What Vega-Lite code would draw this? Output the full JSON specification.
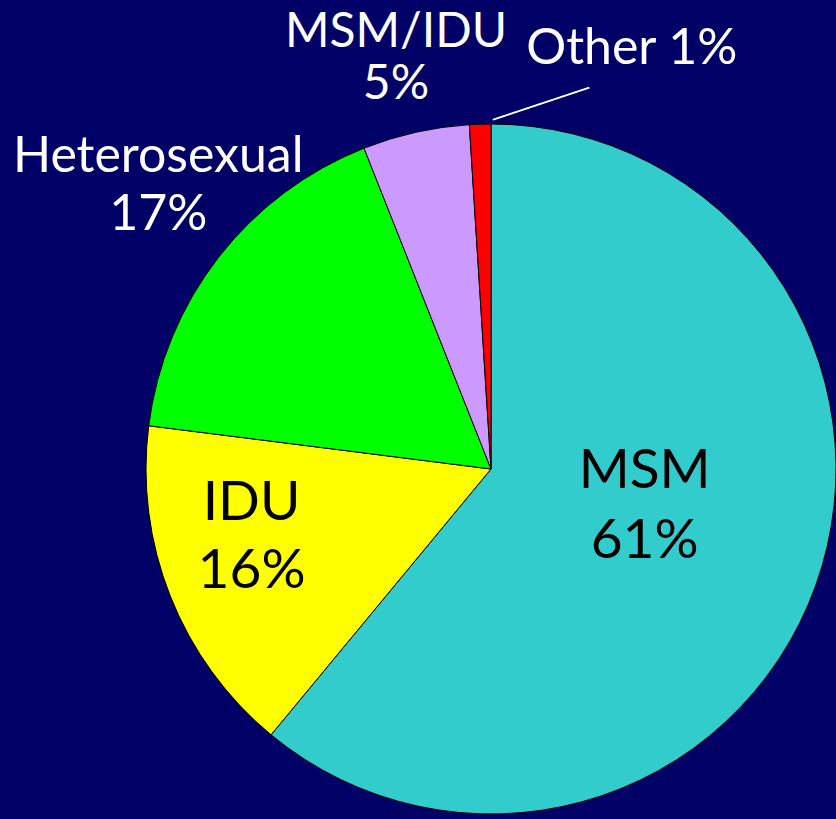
{
  "$schema": "https://vega.github.io/schema/vega-lite/v6.json",
  "autosize": "none",
  "width": 690,
  "height": 690,
  "padding": {"left": 146, "top": 124, "right": 0, "bottom": 5},
  "background": "#000066",
  "config": {"view": {"stroke": null}, "text": {"font": "Lato"}},
  "data": {
    "values": [
      {"group": "MSM", "pct": 61, "k": 1, "label": ["MSM", "61%"]},
      {"group": "IDU", "pct": 16, "k": 2, "label": ["IDU", "16%"]},
      {"group": "Heterosexual", "pct": 17, "k": 3, "label": ["Heterosexual", "17%"]},
      {"group": "MSM/IDU", "pct": 5, "k": 4, "label": ["MSM/IDU", "5%"]},
      {"group": "Other", "pct": 1, "k": 5, "label": ["Other 1%"]}
    ]
  },
  "encoding": {
    "theta": {"field": "pct", "type": "quantitative", "stack": true},
    "order": {"field": "k", "type": "ordinal"}
  },
  "layer": [
    {
      "mark": {"type": "arc", "radius": 345, "stroke": "#000000", "strokeWidth": 1},
      "encoding": {
        "color": {
          "field": "group",
          "type": "nominal",
          "scale": {
            "domain": ["MSM", "IDU", "Heterosexual", "MSM/IDU", "Other"],
            "range": ["#33CCCC", "#FFFF00", "#00FF00", "#CC99FF", "#FF0000"]
          },
          "legend": null
        }
      }
    },
    {
      "mark": {"type": "text", "fontSize": 55, "lineHeight": 70, "color": "#000000", "align": "center", "baseline": "middle", "dx": 5, "dy": -52},
      "encoding": {
        "radius": {"value": 158},
        "text": {"condition": {"test": "datum.group === 'MSM'", "field": "label"}, "value": ""}
      }
    },
    {
      "mark": {"type": "text", "fontSize": 55, "lineHeight": 68, "color": "#000000", "align": "center", "baseline": "middle", "dx": -7, "dy": -58},
      "encoding": {
        "radius": {"value": 250},
        "text": {"condition": {"test": "datum.group === 'IDU'", "field": "label"}, "value": ""}
      }
    },
    {
      "mark": {"type": "text", "fontSize": 50, "lineHeight": 58, "color": "#FFFFFF", "align": "center", "baseline": "middle", "dx": 7, "dy": -48},
      "encoding": {
        "radius": {"value": 430},
        "text": {"condition": {"test": "datum.group === 'Heterosexual'", "field": "label"}, "value": ""}
      }
    },
    {
      "mark": {"type": "text", "fontSize": 48, "lineHeight": 52, "color": "#FFFFFF", "align": "center", "baseline": "middle", "dx": -3, "dy": -24},
      "encoding": {
        "radius": {"value": 422},
        "text": {"condition": {"test": "datum.group === 'MSM/IDU'", "field": "label"}, "value": ""}
      }
    },
    {
      "mark": {"type": "text", "fontSize": 50, "color": "#FFFFFF", "align": "center", "baseline": "middle", "dx": 154, "dy": 0},
      "encoding": {
        "radius": {"value": 420},
        "text": {"condition": {"test": "datum.group === 'Other'", "field": "label"}, "value": ""}
      }
    },
    {
      "mark": {"type": "text", "font": "DejaVu Sans", "fontSize": 21, "color": "#FFFFFF", "align": "left", "baseline": "middle", "angle": -18.4, "dx": 14, "dy": 0},
      "encoding": {
        "radius": {"value": 344},
        "text": {"condition": {"test": "datum.group === 'Other'", "value": "────────"}, "value": ""}
      }
    }
  ]
}
